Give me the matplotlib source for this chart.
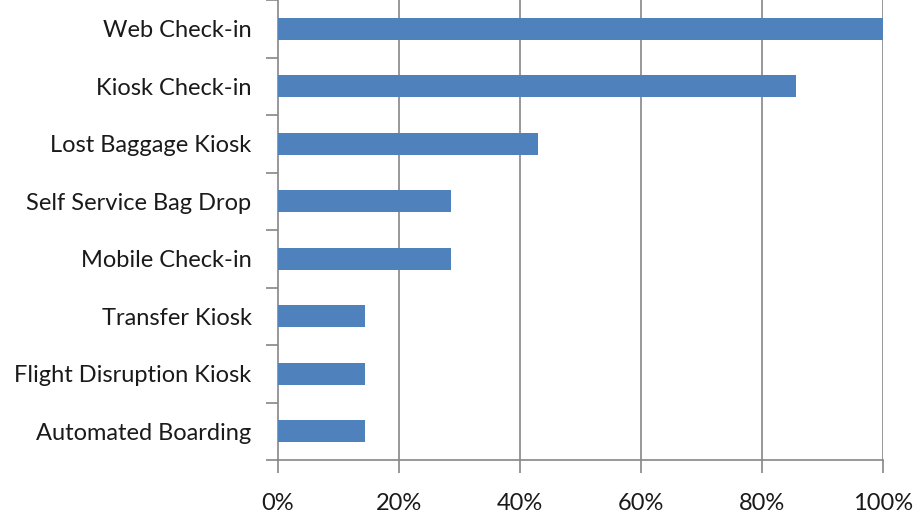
import numpy as np
import matplotlib.pyplot as plt
from matplotlib.ticker import FixedLocator

# share of sites offering each self-service option
categories = ['Web Check-in', 'Kiosk Check-in', 'Lost Baggage Kiosk',
              'Self Service Bag Drop', 'Mobile Check-in', 'Transfer Kiosk',
              'Flight Disruption Kiosk', 'Automated Boarding']
values = [100.0, 85.7, 42.9, 28.6, 28.6, 14.3, 14.3, 14.3]
xticks = [0, 20, 40, 60, 80, 100]

plt.rcParams['font.family'] = ['Lato', 'DejaVu Sans']

fig = plt.figure(figsize=(9.16, 5.13), dpi=100)
ax = fig.add_axes([278/916, 1 - 460/513, 605/916, 460/513])

ypos = np.arange(len(categories))
ax.barh(ypos, values, height=0.38, color='#4F81BD', zorder=3)

ax.set_ylim(len(categories) - 0.5, -0.5)
ax.set_xlim(0, 100)

gc = '#868686'
for x in xticks[1:]:
    ax.axvline(x, color=gc, lw=1.2, zorder=1)

ax.set_yticks(ypos)
ax.set_yticklabels(categories, fontsize=17, color='#1a1a1a')
ax.tick_params(axis='y', which='major', length=0, pad=19)
ax.yaxis.set_minor_locator(FixedLocator(np.arange(len(categories) + 1) - 0.5))
ax.tick_params(axis='y', which='minor', length=9, color=gc, width=1.2)

ax.set_xticks(xticks)
ax.set_xticklabels([f'{x}%' for x in xticks], fontsize=17, color='#1a1a1a')
ax.tick_params(axis='x', length=9, color=gc, width=1.2, pad=15)

for s in ['top', 'right']:
    ax.spines[s].set_visible(False)
for s in ['left', 'bottom']:
    ax.spines[s].set_color(gc)
    ax.spines[s].set_linewidth(1.2)

fig.savefig('out.png', dpi=100)
